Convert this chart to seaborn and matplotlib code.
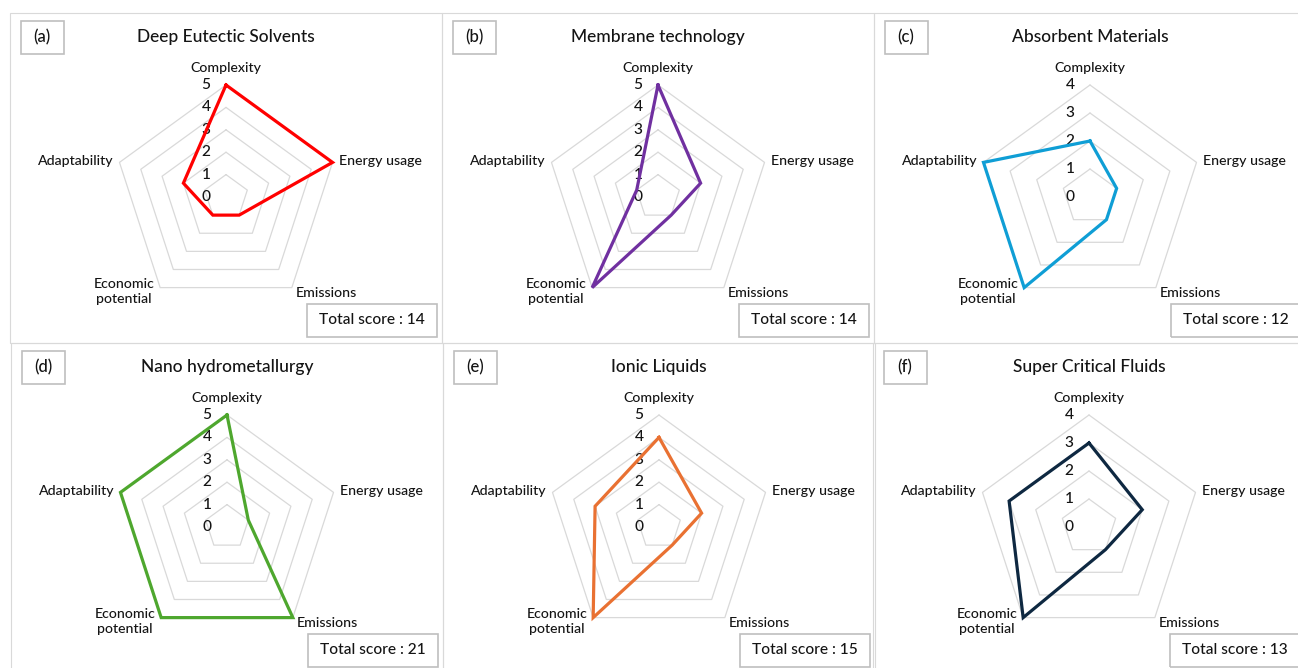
import numpy as np
import seaborn as sns
import matplotlib.pyplot as plt
from matplotlib.patches import Rectangle

# Kriterien (im Uhrzeigersinn, beginnend oben)
criteria = ['Complexity', 'Energy usage', 'Emissions', 'Economic\npotential', 'Adaptability']

titles = ['Deep Eutectic Solvents', 'Membrane technology', 'Absorbent Materials',
          'Nano hydrometallurgy', 'Ionic Liquids', 'Super Critical Fluids']
tags = ['(a)', '(b)', '(c)', '(d)', '(e)', '(f)']

# Bewertungen je Technologie
des_scores = [5, 5, 1, 1, 2]
membrane_scores = [5, 2, 1, 5, 1]
absorbent_scores = [2, 1, 1, 4, 4]
nano_scores = [5, 1, 5, 5, 5]
ionic_scores = [4, 2, 1, 5, 3]
scf_scores = [3, 2, 1, 4, 3]

axis_max = [5, 5, 4, 5, 5, 4]
colors = ['#ff0000', '#7030a0', '#0f9ed5', '#4ea72e', '#e97132', '#0e2841']

all_scores = [des_scores, membrane_scores, absorbent_scores,
              nano_scores, ionic_scores, scf_scores]

W, H = 1298, 668
sns.set_theme(style='white')
plt.rcParams['font.family'] = ['Lato', 'DejaVu Sans']
plt.rcParams['font.weight'] = 'medium'
text_color = '#141414'

fig = plt.figure(figsize=(W / 100, H / 100), dpi=100)

def fig_box(x, y, w, h, color, lw):
    # Rechteck in Pixelkoordinaten (oben links)
    fig.patches.append(Rectangle((x / W, 1 - (y + h) / H), w / W, h / H,
                                 transform=fig.transFigure, fill=False,
                                 edgecolor=color, linewidth=lw))

def fig_label(x, y, s, **kw):
    fig.text(x / W, 1 - y / H, s, color=text_color, ha='center', va='center', **kw)

origins = [(10, 13), (442, 13), (874, 13), (11, 343), (443, 343), (873, 343)]
R = 112      # Radius der äußeren Linie in Pixel
pad = 1.04

n = len(criteria)
theta = [2 * np.pi * i / n for i in range(n)] + [2 * np.pi]

label_style = [((0, 17), 'center'), ((6, 1), 'left'), ((4, -5), 'left'),
               ((-36, -4), 'center'), ((-6, 1), 'right')]

for k in range(6):
    x0, y0 = origins[k]
    rmax = axis_max[k]
    scores = all_scores[k]

    # Rahmen um das Teilbild
    fig_box(x0, y0, 432, 330, '#d9d9d9', 0.8)
    fig_box(x0 + 11, y0 + 8, 43, 33, '#bfbfbf', 1.2)
    fig_label(x0 + 32, y0 + 24, tags[k], fontsize=12)
    fig_label(x0 + 216, y0 + 24, titles[k], fontsize=12.5)
    fig_box(x0 + 297, y0 + 291, 130, 33, '#bfbfbf', 1.2)
    fig_label(x0 + 362, y0 + 307, f'Total score : {sum(scores)}', fontsize=11.2)

    cx, cy = x0 + 216, y0 + 184
    a = R * pad
    ax = fig.add_axes([(cx - a) / W, 1 - (cy + a) / H, 2 * a / W, 2 * a / H],
                      projection='polar')
    ax.set_theta_offset(np.pi / 2)
    ax.set_theta_direction(-1)

    for r in range(1, rmax + 1):
        ax.plot(theta, [r] * (n + 1), color='#d9d9d9', linewidth=0.9, zorder=1)

    sns.lineplot(x=theta, y=scores + scores[:1], sort=False, estimator=None,
                 color=colors[k], linewidth=2.3, ax=ax, zorder=4,
                 solid_joinstyle='miter', solid_capstyle='projecting')

    for r in range(0, rmax + 1):
        ax.annotate(str(r), xy=(0, r), xytext=(-20, 0), textcoords='offset pixels',
                    ha='center', va='center', fontsize=11.2, color=text_color,
                    annotation_clip=False, zorder=2)

    for name, (off, ha) in zip(criteria, label_style):
        i = criteria.index(name)
        ax.annotate(name, xy=(theta[i], rmax), xytext=off, textcoords='offset pixels',
                    ha=ha, va='center', fontsize=10.2, color=text_color,
                    multialignment='center', annotation_clip=False, linespacing=1.25)

    ax.set_ylim(0, rmax * pad)
    ax.set_xticks([])
    ax.set_yticks([])
    ax.grid(False)
    ax.spines['polar'].set_visible(False)
    ax.patch.set_alpha(0)
    ax.set_xlabel('')
    ax.set_ylabel('')

fig.savefig('out.png', dpi=100, facecolor='white')
